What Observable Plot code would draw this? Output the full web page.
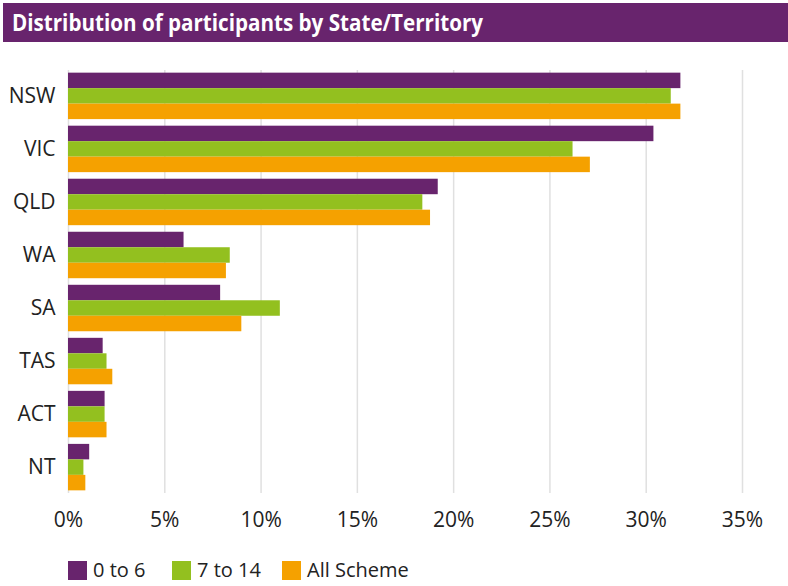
<!DOCTYPE html>
<html>
<head>
<meta charset="utf-8">
<script src="https://cdn.jsdelivr.net/npm/d3@7"></script>
<script src="https://cdn.jsdelivr.net/npm/@observablehq/plot@0.6"></script>
<style>
  html, body { margin: 0; padding: 0; background: #fff; }
  body { width: 788px; height: 586px; overflow: hidden; position: relative; font-family: "Open Sans", sans-serif; }
  #title { position: absolute; left: 3px; top: 3px; width: 785px; height: 39px; background: #68246d; overflow: hidden; }
  #titleText { position: absolute; left: 9px; top: 0; color: #fff; white-space: nowrap;
           font-family: "Open Sans", sans-serif; font-weight: bold; font-size: 23px; line-height: 39px;
           transform-origin: 0 50%; }
  #chart { position: absolute; left: 0; top: 45px; }
  #legend { position: absolute; left: 68px; top: 559px; display: flex; font-size: 20px; color: #222; line-height: 22px; }
  .item { display: flex; align-items: center; }
  .sw { width: 19px; height: 19px; margin-right: 6px; }
</style>
</head>
<body>
<div id="title"><span id="titleText">Distribution of participants by State/Territory</span></div>
<div id="chart"></div>
<div id="legend"></div>
<script>
const states = ["NSW", "VIC", "QLD", "WA", "SA", "TAS", "ACT", "NT"];
const seriesNames = ["0 to 6", "7 to 14", "All Scheme"];
const seriesColors = ["#68246d", "#93c01f", "#f5a100"];
const age0to6 = [31.8, 30.4, 19.2, 6.0, 7.9, 1.8, 1.9, 1.1];
const age7to14 = [31.3, 26.2, 18.4, 8.4, 11.0, 2.0, 1.9, 0.8];
const allScheme = [31.8, 27.1, 18.8, 8.2, 9.0, 2.3, 2.0, 0.9];
const xTicks = [0, 5, 10, 15, 20, 25, 30, 35];

// fit the title text to the reference width
const tt = document.getElementById("titleText");
const tw = tt.getBoundingClientRect().width;
tt.style.transform = `scaleX(${471 / tw})`;

const seriesValues = [age0to6, age7to14, allScheme];
const rows = [];
seriesNames.forEach((s, si) => states.forEach((st, i) => rows.push({state: st, series: s, value: seriesValues[si][i] / 100})));

const width = 788, height = 510;
const marginTop = 25, marginBottom = 62, marginLeft = 68, marginRight = 46;
const pInner = 0.124, pOuter = 0.05;
const step = (height - marginTop - marginBottom) / (states.length - pInner + 2 * pOuter);
const third = step * (1 - pInner) / 3;

const barMarks = seriesNames.map((s, si) =>
  Plot.barX(rows.filter(d => d.series === s), {
    x: "value", y: "state", fill: seriesColors[si],
    insetTop: third * si, insetBottom: third * (2 - si)
  })
);

const chart = Plot.plot({
  width, height, marginTop, marginBottom, marginLeft, marginRight,
  style: { fontFamily: "'Open Sans', sans-serif", fontSize: "21px", color: "#222", background: "#fff" },
  x: { domain: [0, 0.35], ticks: xTicks.map(t => t / 100), tickFormat: d => Math.round(d * 100) + "%", label: null, tickSize: 0, tickPadding: 19 },
  y: { domain: states, paddingInner: pInner, paddingOuter: pOuter, round: false, label: null, tickSize: 0, tickPadding: 13 },
  marks: [
    Plot.ruleX(xTicks.map(t => t / 100), { stroke: "#e0e0e0", strokeWidth: 1.5 }),
    ...barMarks
  ]
});
document.getElementById("chart").appendChild(chart);

const legend = document.getElementById("legend");
const legendLefts = [0, 104, 214];
seriesNames.forEach((s, i) => {
  const item = document.createElement("div");
  item.className = "item";
  item.style.position = "absolute";
  item.style.left = legendLefts[i] + "px";
  const sw = document.createElement("div");
  sw.className = "sw";
  sw.style.background = seriesColors[i];
  item.appendChild(sw);
  const t = document.createElement("span");
  t.textContent = s;
  t.style.whiteSpace = "nowrap";
  item.appendChild(t);
  legend.appendChild(item);
});
</script>
</body>
</html>
